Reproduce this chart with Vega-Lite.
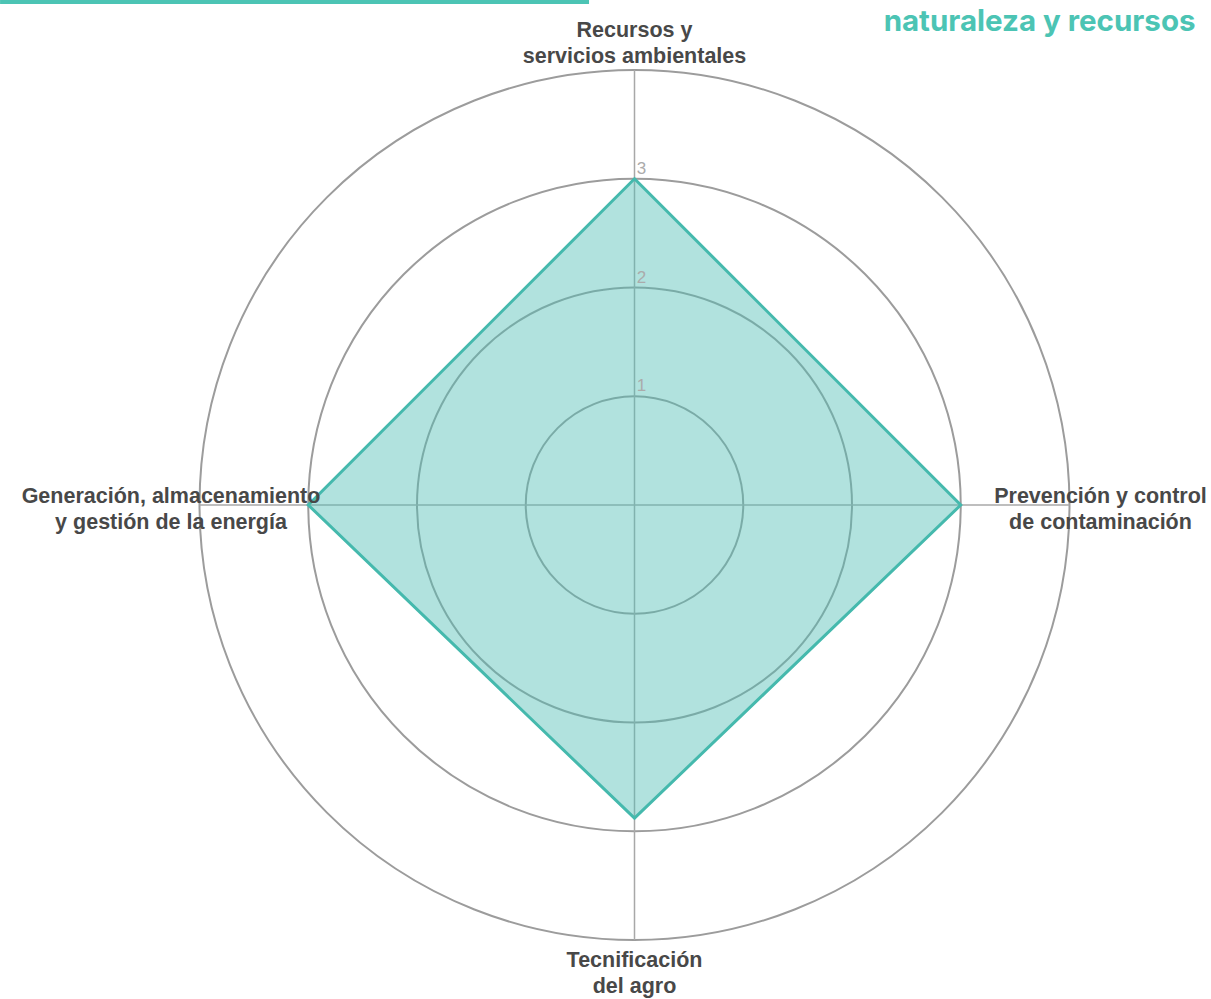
{
  "$schema": "https://vega.github.io/schema/vega-lite/v6.json",
  "width": 870,
  "height": 870,
  "autosize": {"type": "none"},
  "padding": {"left": 199.5, "top": 70, "right": 141.5, "bottom": 59},
  "background": "white",
  "config": {"view": {"stroke": null}},
  "title": {
    "text": "naturaleza y recursos",
    "anchor": "end",
    "frame": "group",
    "dx": 126,
    "offset": -61,
    "baseline": "alphabetic",
    "font": "Inter",
    "fontSize": 29.5,
    "fontWeight": "bold",
    "color": "#4cc4b4"
  },
  "datasets": {
    "anillos": [{"nivel": 1}, {"nivel": 2}, {"nivel": 3}, {"nivel": 4}],
    "ejes": [
      {"eje": "Recursos y servicios ambientales", "etiqueta": "Recursos y\nservicios ambientales", "ex": 0, "ey": 4, "px": 0, "py": 3, "orden": 1},
      {"eje": "Prevención y control de contaminación", "etiqueta": "Prevención y control\nde contaminación", "ex": 4, "ey": 0, "px": 3, "py": 0, "orden": 2},
      {"eje": "Tecnificación del agro", "etiqueta": "Tecnificación\ndel agro", "ex": 0, "ey": -4, "px": 0, "py": -2.88, "orden": 3},
      {"eje": "Generación, almacenamiento y gestión de la energía", "etiqueta": "Generación, almacenamiento\ny gestión de la energía", "ex": -4, "ey": 0, "px": -3, "py": 0, "orden": 4}
    ]
  },
  "layer": [
    {
      "data": {"name": "anillos"},
      "mark": {"type": "arc", "filled": false, "stroke": "#9c9c9c", "strokeWidth": 2, "theta": 0, "theta2": 6.2832},
      "encoding": {
        "radius": {"field": "nivel", "type": "quantitative", "stack": false, "scale": {"type": "linear", "domain": [0, 4], "range": [0, 435]}}
      }
    },
    {
      "data": {"name": "ejes"},
      "mark": {"type": "rule", "color": "#a8a8a8", "strokeWidth": 1.5},
      "encoding": {
        "x": {"field": "ex", "type": "quantitative", "scale": {"domain": [-4, 4], "nice": false}, "axis": null},
        "y": {"field": "ey", "type": "quantitative", "scale": {"domain": [-4, 4], "nice": false}, "axis": null},
        "x2": {"datum": 0},
        "y2": {"datum": 0}
      }
    },
    {
      "data": {"name": "ejes"},
      "mark": {"type": "line", "interpolate": "linear-closed", "fill": "#52bfb5", "fillOpacity": 0.45, "stroke": "#45b9ad", "strokeWidth": 3, "strokeJoin": "miter"},
      "encoding": {
        "x": {"field": "px", "type": "quantitative"},
        "y": {"field": "py", "type": "quantitative"},
        "order": {"field": "orden", "type": "quantitative"}
      }
    },
    {
      "data": {"name": "anillos"},
      "transform": [{"filter": "datum.nivel <= 3"}],
      "mark": {"type": "text", "align": "center", "baseline": "alphabetic", "dx": 7, "dy": -5, "fontSize": 17, "font": "Liberation Sans", "color": "#ababab"},
      "encoding": {
        "x": {"datum": 0, "type": "quantitative"},
        "y": {"field": "nivel", "type": "quantitative"},
        "text": {"field": "nivel", "type": "quantitative"}
      }
    },
    {
      "data": {"name": "ejes"},
      "transform": [{"filter": "datum.ey > 0"}],
      "mark": {"type": "text", "align": "center", "baseline": "middle", "dy": -39, "lineBreak": "\n", "lineHeight": 26, "font": "Liberation Sans", "fontWeight": "bold", "fontSize": 21.5, "color": "#484848"},
      "encoding": {
        "x": {"field": "ex", "type": "quantitative"},
        "y": {"field": "ey", "type": "quantitative"},
        "text": {"field": "etiqueta"}
      }
    },
    {
      "data": {"name": "ejes"},
      "transform": [{"filter": "datum.ey < 0"}],
      "mark": {"type": "text", "align": "center", "baseline": "middle", "dy": 21, "lineBreak": "\n", "lineHeight": 26, "font": "Liberation Sans", "fontWeight": "bold", "fontSize": 21.5, "color": "#484848"},
      "encoding": {
        "x": {"field": "ex", "type": "quantitative"},
        "y": {"field": "ey", "type": "quantitative"},
        "text": {"field": "etiqueta"}
      }
    },
    {
      "data": {"name": "ejes"},
      "transform": [{"filter": "datum.ex < 0"}],
      "mark": {"type": "text", "align": "center", "baseline": "middle", "dx": -28.5, "dy": -8, "lineBreak": "\n", "lineHeight": 26, "font": "Liberation Sans", "fontWeight": "bold", "fontSize": 21.5, "color": "#484848"},
      "encoding": {
        "x": {"field": "ex", "type": "quantitative"},
        "y": {"field": "ey", "type": "quantitative"},
        "text": {"field": "etiqueta"}
      }
    },
    {
      "data": {"name": "ejes"},
      "transform": [{"filter": "datum.ex > 0"}],
      "mark": {"type": "text", "align": "center", "baseline": "middle", "dx": 31, "dy": -8, "lineBreak": "\n", "lineHeight": 26, "font": "Liberation Sans", "fontWeight": "bold", "fontSize": 21.5, "color": "#484848"},
      "encoding": {
        "x": {"field": "ex", "type": "quantitative"},
        "y": {"field": "ey", "type": "quantitative"},
        "text": {"field": "etiqueta"}
      }
    },
    {
      "data": {"values": [{"elemento": "barra"}]},
      "mark": {"type": "rect", "color": "#4cc4b4"},
      "encoding": {
        "x": {"datum": -5.834, "type": "quantitative"},
        "x2": {"datum": -0.418},
        "y": {"datum": 4.644, "type": "quantitative"},
        "y2": {"datum": 4.607}
      }
    }
  ]
}
